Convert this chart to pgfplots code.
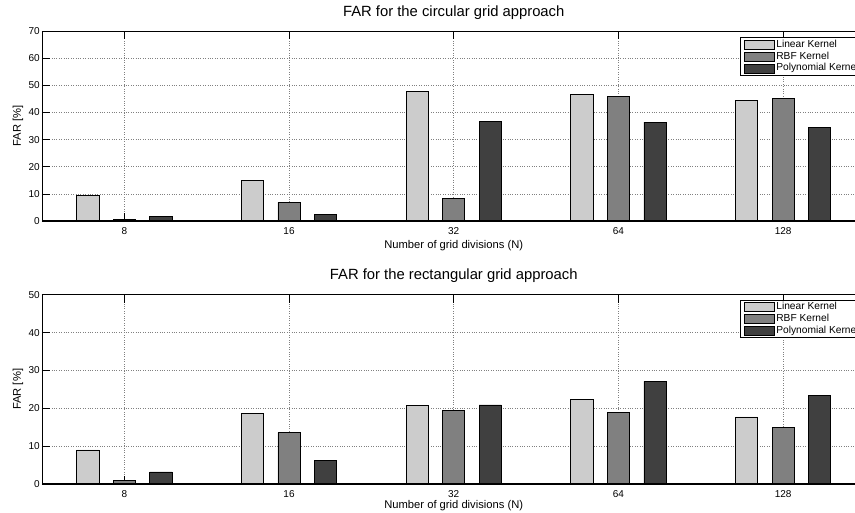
\documentclass[border=0pt]{standalone}
\usepackage{fontspec}
\setmainfont{Liberation Sans}
\usepackage{pgfplots}
\usepackage{pgfplotstable}
\pgfplotsset{compat=1.18}
\definecolor{cLin}{gray}{0.80}
\definecolor{cRbf}{gray}{0.50}
\definecolor{cPol}{gray}{0.25}

\pgfplotstableread{
x lin rbf poly
1 9.3 0.6 1.8
2 15.0 6.9 2.3
3 47.8 8.2 36.8
4 46.7 45.9 36.4
5 44.5 45.2 34.6
}\tabcirc

\pgfplotstableread{
x lin rbf poly
1 9.0 0.9 3.2
2 18.7 13.6 6.2
3 20.7 19.4 20.9
4 22.3 18.9 27.1
5 17.7 15.0 23.5
}\tabrect

\pgfplotsset{
  common/.style={
    scale only axis, width=823.5pt, anchor=south west,
    xmin=0.5, xmax=5.5, ymin=0,
    xtick={1,2,3,4,5}, xticklabels={8,16,32,64,128},
    ybar, bar width=0.135,
    grid=major, major grid style={dotted, gray, line width=0.5pt},
    tick align=inside, major tick length=8pt,
    tick style={black, line width=0.6pt},
    axis line style={line width=0.8pt},
    tick label style={font=\fontsize{10}{12}\selectfont},
    /pgf/number format/assume math mode=true,
    label style={font=\fontsize{11.2}{13}\selectfont},
    title style={font=\fontsize{14.8}{17}\selectfont, anchor=base},
    ylabel={FAR [\%]}, xlabel={Number of grid divisions (N)},
    ylabel style={at={(axis description cs:-0.0292,0.5)},anchor=center},
    xticklabel style={yshift=-2.5pt},
    yticklabel style={inner sep=2pt},
    legend cell align=left,
    legend image code/.code={\draw[#1] (0pt,-4.5pt) rectangle (30pt,4.5pt);},
    legend style={anchor=north west, draw=black, line width=0.8pt,
      font=\fontsize{10.2}{12}\selectfont, inner xsep=4.5pt, inner ysep=1pt,
      row sep=0pt, nodes={inner sep=1.2pt, text height=7.3pt, text depth=2.2pt}},
    every axis plot/.append style={draw=black, line width=0.75pt},
  }
}

\begin{document}
\begin{tikzpicture}
\useasboundingbox (0,0) rectangle (855pt,512pt);
\clip (0,0) rectangle (855pt,512pt);

\begin{axis}[common, at={(42pt,291pt)}, height=190pt, ymax=70,
  ytick={0,10,...,70},
  title={FAR for the circular grid approach},
  title style={at={(axis description cs:0.5,1.047)}},
  xlabel style={at={(axis description cs:0.5,-0.130)},anchor=center},
  legend style={at={(0.847,0.967)}}]
\addplot[fill=cLin, bar shift=-0.222] table[x=x,y=lin] {\tabcirc};
\addplot[fill=cRbf, bar shift=0] table[x=x,y=rbf] {\tabcirc};
\addplot[fill=cPol, bar shift=0.222] table[x=x,y=poly] {\tabcirc};
\legend{Linear Kernel, RBF Kernel, Polynomial Kernel}
\draw[line width=1.3pt] (axis cs:0.5,0) -- (axis cs:5.5,0);
\end{axis}

\begin{axis}[common, at={(42pt,28pt)}, height=189.3pt, ymax=50,
  ytick={0,10,...,50},
  title={FAR for the rectangular grid approach},
  title style={at={(axis description cs:0.5,1.0475)}},
  xlabel style={at={(axis description cs:0.5,-0.116)},anchor=center},
  legend style={at={(0.847,0.974)}}]
\addplot[fill=cLin, bar shift=-0.222] table[x=x,y=lin] {\tabrect};
\addplot[fill=cRbf, bar shift=0] table[x=x,y=rbf] {\tabrect};
\addplot[fill=cPol, bar shift=0.222] table[x=x,y=poly] {\tabrect};
\legend{Linear Kernel, RBF Kernel, Polynomial Kernel}
\draw[line width=1.3pt] (axis cs:0.5,0) -- (axis cs:5.5,0);
\end{axis}
\end{tikzpicture}
\end{document}
